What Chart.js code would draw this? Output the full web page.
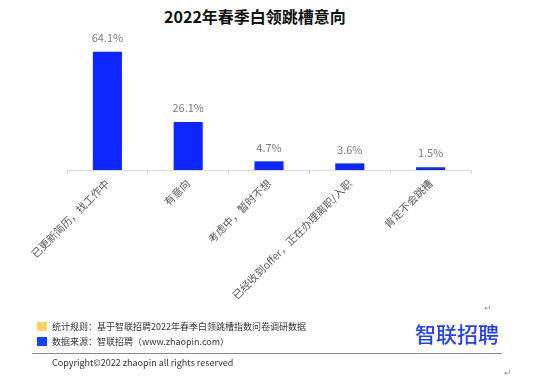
<!DOCTYPE html>
<html>
<head>
<meta charset="utf-8">
<script src="https://cdn.jsdelivr.net/npm/chart.js@4/dist/chart.umd.min.js"></script>
<style>
  body { margin: 0; width: 550px; height: 377px; background: #fff; position: relative; overflow: hidden;
         font-family: "Noto Sans CJK SC", "Noto Sans", sans-serif; }
  #myChart { position: absolute; left: 0; top: 0; }
  .abs { position: absolute; white-space: nowrap; }
  .title { left: 0; width: 510px; top: 4px; text-align: center; font-size: 16px; font-weight: bold; color: #111; }
  .sq { width: 10px; height: 9px; }
  .note { font-size: 9px; color: #333; line-height: 12px; }
  .logo { font-size: 21px; color: #2340f5; font-weight: 500; }
  .mark { font-size: 9px; color: #999; }
</style>
</head>
<body>
<div class="abs title">2022年春季白领跳槽意向</div>
<canvas id="myChart" width="550" height="312"></canvas>

<div class="abs sq" style="left:37px; top:322px; background:#ffd45e;"></div>
<div class="abs note" style="left:52px; top:321px;">统计规则：基于智联招聘2022年春季白领跳槽指数问卷调研数据</div>
<div class="abs sq" style="left:37px; top:337px; background:#1a3cff;"></div>
<div class="abs note" style="left:52px; top:336px;">数据来源：智联招聘（www.zhaopin.com）</div>
<div class="abs" style="left:32px; top:353px; width:470px; height:1px; background:#8a8a8a;"></div>
<div class="abs note" style="left:52px; top:357px;">Copyright©2022 zhaopin all rights reserved</div>
<div class="abs logo" style="left:415px; top:318px;">智联招聘</div>
<div class="abs mark" style="left:484px; top:301px;">↵</div>
<div class="abs mark" style="left:504px; top:366px;">↵</div>

<script>
  // categories and values
  const categories = ['已更新简历，找工作中', '有意向', '考虑中，暂时不想', '已经收到offer，正在办理离职/入职', '肯定不会跳槽'];
  const shares = [64.1, 26.1, 4.7, 3.6, 1.5];

  // draw the % label over each bar
  const barLabels = {
    id: 'barLabels',
    afterDatasetsDraw(chart) {
      const ctx = chart.ctx;
      const meta = chart.getDatasetMeta(0);
      ctx.save();
      ctx.font = '11px "Noto Sans CJK SC", sans-serif';
      ctx.fillStyle = '#7a7a7a';
      ctx.textAlign = 'center';
      ctx.textBaseline = 'middle';
      meta.data.forEach((bar, i) => {
        ctx.fillText(shares[i].toFixed(1) + '%', bar.x, bar.y - 14);
      });
      ctx.restore();
    }
  };

  const canvas = document.getElementById('myChart');
  const chart = new Chart(canvas, {
    type: 'bar',
    data: {
      labels: categories,
      datasets: [{
        data: shares,
        backgroundColor: '#0d26ff',
        borderWidth: 0,
        barPercentage: 0.36,
        categoryPercentage: 1
      }]
    },
    options: {
      responsive: false,
      animation: false,
      devicePixelRatio: 1,
      layout: { padding: { left: 67, right: 79, top: 41, bottom: 0 } },
      plugins: { legend: { display: false }, tooltip: { enabled: false } },
      scales: {
        y: { display: false, min: 0, max: 70 },
        x: {
          afterFit: (s) => { s.height = 142; },
          border: { color: '#d9d9d9' },
          grid: { drawOnChartArea: false, color: '#d9d9d9', tickLength: 4, offset: true },
          ticks: {
            minRotation: 45, maxRotation: 45, autoSkip: false,
            color: '#595959',
            font: { size: 10.5, family: '"Noto Sans CJK SC", sans-serif' }
          }
        }
      }
    },
    plugins: [barLabels]
  });
</script>
</body>
</html>
